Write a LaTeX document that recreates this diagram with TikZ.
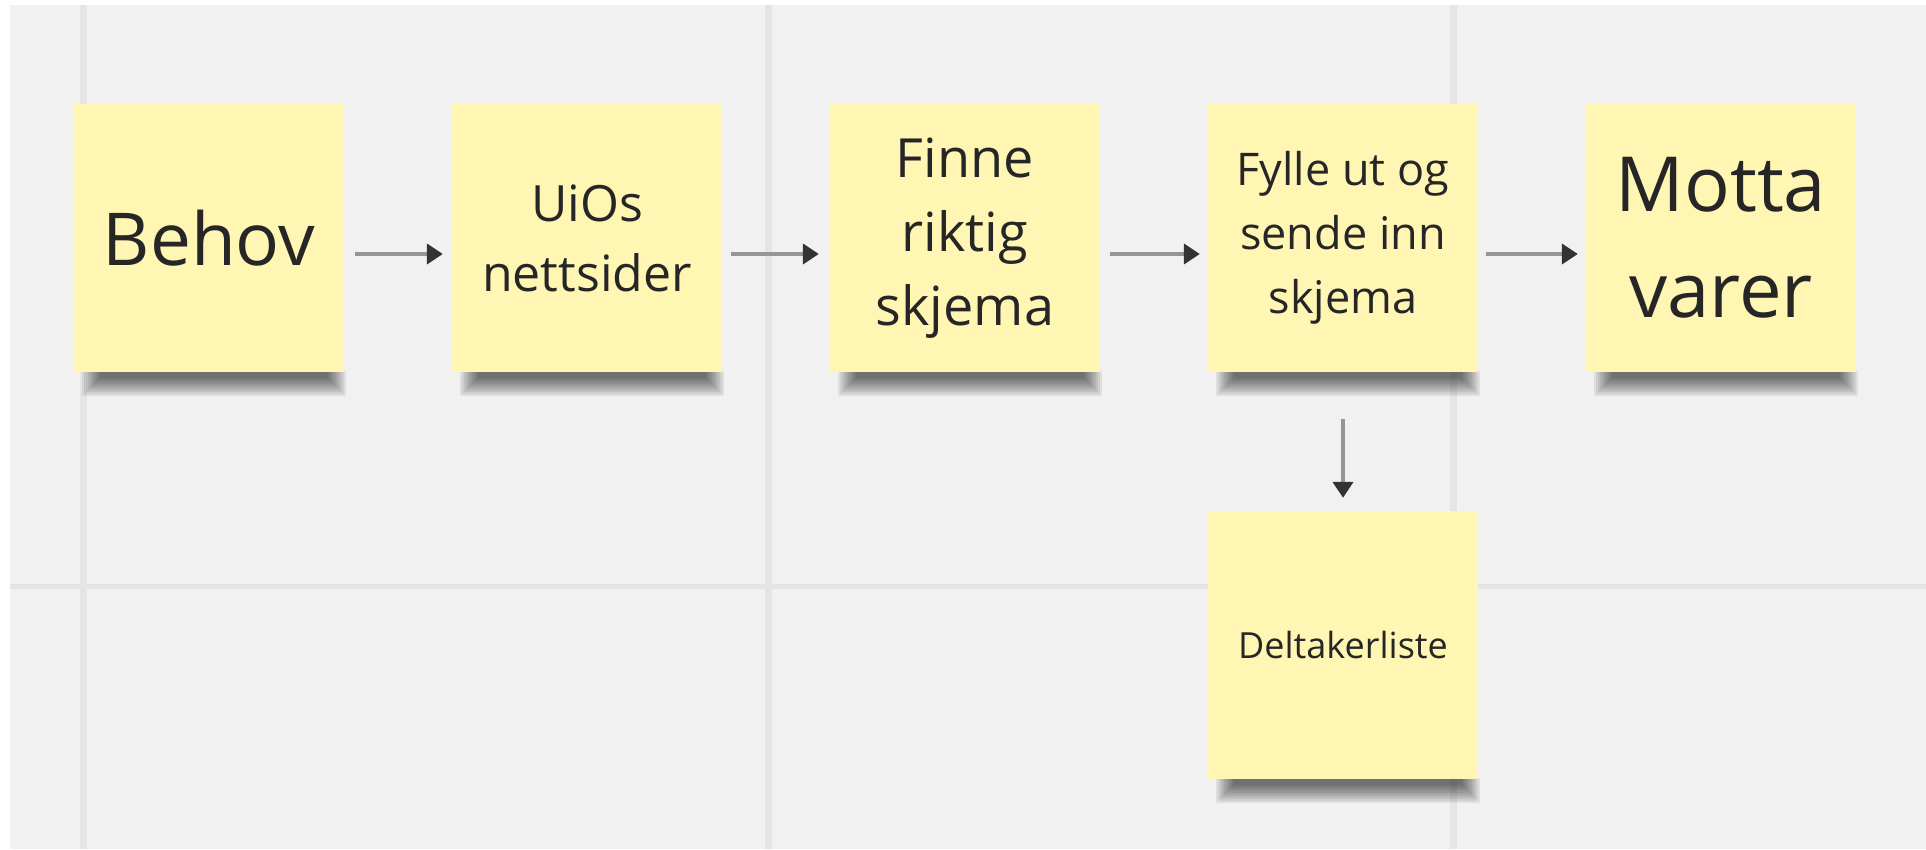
\documentclass[tikz,border=0pt]{standalone}
\usepackage{fontspec}
\setmainfont{Open Sans}
\usetikzlibrary{positioning,arrows.meta,backgrounds}
\definecolor{lappgul}{RGB}{255,246,179}
\definecolor{bakgrunn}{RGB}{241,241,241}
\definecolor{rutenett}{RGB}{229,229,229}
\definecolor{pilgraa}{RGB}{150,150,150}
\definecolor{pilhode}{RGB}{51,51,51}

\begin{document}
\begin{tikzpicture}[x=1pt,y=1pt,node distance=378pt,
    lapp/.style={shape=rectangle,fill=lappgul,minimum width=270pt,minimum height=268pt,inner sep=0pt,align=center,text=black!85},
    skygge/.style={fill=black,fill opacity=0.07},
    pil/.style={draw=pilgraa,line width=4pt,-{Triangle[length=16pt,width=20pt,color=pilhode]}}]
            \useasboundingbox (0,0) rectangle (1926,-849);

            \node[lapp,font=\fontsize{73}{100}\selectfont] (behov) at (209,-238) {Behov};
            \node[lapp,font=\fontsize{50}{70}\selectfont] (uios) [right of=behov] {UiOs\\nettsider};
            \node[lapp,font=\fontsize{54}{74}\selectfont] (finne) [right of=uios] {Finne\\riktig\\skjema};
            \node[lapp,font=\fontsize{45}{64}\selectfont] (fylle) [right of=finne] {Fylle ut og\\sende inn\\skjema};
            \node[lapp,font=\fontsize{76}{106}\selectfont] (motta) [right of=fylle] {Motta\\varer};
            \node[lapp,font=\fontsize{36}{50}\selectfont] (deltaker) [below of=fylle,node distance=407pt] {Deltakerliste};

            \begin{scope}[on background layer]
            \fill[white] (0,0) rectangle (1926,-849);
            \fill[bakgrunn] (10,-5) rectangle (1926,-849);
            \draw[rutenett,line width=7pt] (83,-5) -- (83,-849) (768,-5) -- (768,-849) (1453,-5) -- (1453,-849);
            \draw[rutenett,line width=5pt] (10,-586) -- (1926,-586);
            \foreach \n in {behov,uios,finne,fylle,motta,deltaker}
                \foreach \k in {1,...,10}
                    \path[skygge] ([xshift={6pt+2*\k pt},yshift=1pt]\n.south west) rectangle ([xshift={4pt-2*\k pt},yshift={-26pt+2*\k pt}]\n.south east);
            \end{scope}

            \draw[pil,shorten <=11pt,shorten >=9pt] ([yshift=-16pt]behov.east) -- ([yshift=-16pt]uios.west);
            \draw[pil,shorten <=9pt,shorten >=11pt] ([yshift=-16pt]uios.east) -- ([yshift=-16pt]finne.west);
            \draw[pil,shorten <=10pt,shorten >=8pt] ([yshift=-16pt]finne.east) -- ([yshift=-16pt]fylle.west);
            \draw[pil,shorten <=8pt,shorten >=8pt] ([yshift=-16pt]fylle.east) -- ([yshift=-16pt]motta.west);
            \draw[pil,shorten <=47pt,shorten >=13pt] (fylle.south) -- (deltaker.north);
        \end{tikzpicture}
\end{document}
